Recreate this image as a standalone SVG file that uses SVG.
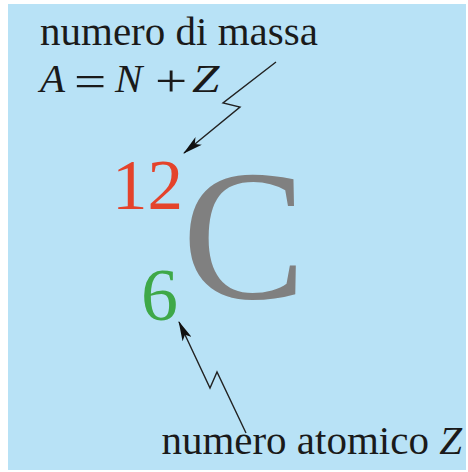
<svg xmlns="http://www.w3.org/2000/svg" width="468" height="472" viewBox="0 0 468 472">
<defs>
<style>
.t{font-family:"Liberation Serif","Times New Roman",serif;font-size:41px;fill:#1a1a1a}
.i{font-style:italic}
.op{font-size:44px}
.ln{fill:none;stroke:#222;stroke-width:1.4}
</style>
<marker id="ah" viewBox="0 0 20 10" refX="19" refY="5" markerWidth="20" markerHeight="10" markerUnits="userSpaceOnUse" orient="auto">
<path d="M0,0 L20,5 L0,10 L5,5 Z" fill="#111"/>
</marker>
</defs>
<rect x="0" y="0" width="468" height="472" fill="#ffffff"/>
<rect x="8" y="4" width="458" height="466" fill="#b8e2f6"/>
<g id="label-mass">
<text class="t" x="40" y="45">numero di massa</text>
<text class="t i" x="40" y="92">A</text>
<text class="t op" transform="translate(74,96) scale(1.3,1)">=</text>
<text class="t i" x="115" y="92">N</text>
<text class="t op" transform="translate(155,96) scale(1.3,1)">+</text>
<text class="t i" transform="translate(192,92) scale(1.2,1)">Z</text>
</g>
<g id="symbol">
<text x="112" y="209" font-family="Liberation Serif, serif" font-size="71" fill="#e4432b">12</text>
<text x="141" y="320" font-family="Liberation Serif, serif" font-size="74" fill="#3ea848">6</text>
<text x="182" y="298" font-family="Liberation Serif, serif" font-size="186" fill="#808080">C</text>
</g>
<g id="label-atomic">
<text class="t" x="462" y="454" text-anchor="end">numero atomico <tspan class="i">Z</tspan></text>
</g>
<g id="connectors">
<path class="ln" d="M276,62 L223,103 L240,107 L184,153" marker-end="url(#ah)"/>
<path class="ln" d="M246,433 L217,372 L210,388 L179,322" marker-end="url(#ah)"/>
</g>
</svg>
